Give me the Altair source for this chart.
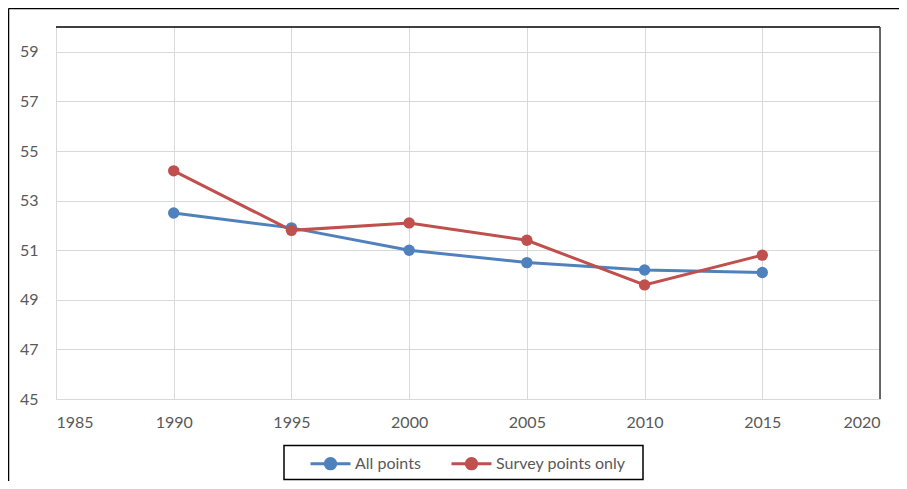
import altair as alt
import pandas as pd

years = [1990, 1995, 2000, 2005, 2010, 2015]
all_points = [52.5, 51.9, 51.0, 50.5, 50.2, 50.1]
survey_points = [54.2, 51.8, 52.1, 51.4, 49.6, 50.8]
series_names = ["All points", "Survey points only"]
colors = ["#4F81BD", "#C0504D"]
x_ticks = [1985, 1990, 1995, 2000, 2005, 2010, 2015, 2020]
y_ticks = [45, 47, 49, 51, 53, 55, 57, 59]

rows = []
for name, vals in zip(series_names, [all_points, survey_points]):
    for yr, v in zip(years, vals):
        rows.append({"year": yr, "value": v, "series": name})
df = pd.DataFrame(rows)

FONT = "Lato"
GRID = "#D9D9D9"
TXT = "#595959"

legend_path = ("M-1,0L1,0"
               "M-0.26,0a0.26,0.26 0 1,0 0.52,0a0.26,0.26 0 1,0 -0.52,0Z")

color = alt.Color(
    "series:N",
    scale=alt.Scale(domain=series_names, range=colors),
    legend=alt.Legend(
        title=None, orient="none", direction="horizontal",
        legendX=253, legendY=415,
        symbolType=legend_path, symbolSize=1600, symbolStrokeWidth=3,
        labelFont=FONT, labelFontSize=16, labelColor=TXT, labelOffset=3,
        columnPadding=24, padding=0,
    ),
)

x = alt.X("year:Q", scale=alt.Scale(domain=[1985, 2020], nice=False),
          axis=alt.Axis(values=x_ticks, format="d", title=None, grid=True,
                        gridColor=GRID, domainColor=GRID, ticks=False,
                        labelPadding=15, labelFont=FONT, labelFontSize=16,
                        labelColor=TXT))
y = alt.Y("value:Q", scale=alt.Scale(domain=[45, 60], nice=False, zero=False),
          axis=alt.Axis(values=y_ticks, title=None, grid=True,
                        gridColor=GRID, domainColor=GRID, ticks=False,
                        labelPadding=18, labelFont=FONT, labelFontSize=16,
                        labelColor=TXT))

base = alt.Chart(df)
points = base.mark_point(filled=True, size=130, opacity=1).encode(x=x, y=y, color=color)
lines = base.mark_line(strokeWidth=3).encode(x=x, y=y, color=color)

deco = pd.DataFrame({"k": [0]})
legend_box = alt.Chart(deco).mark_rect(fill="#FFFFFF", stroke="#000000", strokeWidth=1.5).encode(
    x=alt.value(228), x2=alt.value(587), y=alt.value(418.5), y2=alt.value(452.5))
plot_top = alt.Chart(deco).mark_rule(color="#000000", strokeWidth=1.5).encode(
    x=alt.value(0), x2=alt.value(824), y=alt.value(0))
plot_right = alt.Chart(deco).mark_rule(color="#3A3A3A", strokeWidth=1.5).encode(
    x=alt.value(824), y=alt.value(0), y2=alt.value(372))
left_line = alt.Chart(deco).mark_rule(color="#000000", strokeWidth=1.5).encode(
    x=alt.value(-47.5), y=alt.value(-18.5), y2=alt.value(470))
top_line = alt.Chart(deco).mark_rule(color="#000000", strokeWidth=1.5).encode(
    x=alt.value(-47.5), x2=alt.value(880), y=alt.value(-18.5))

chart = alt.layer(legend_box, lines, points, plot_top, plot_right, left_line, top_line).properties(
    width=824, height=372,
    autosize=alt.AutoSizeParams(type="none"),
    padding={"left": 48, "top": 19, "right": 19, "bottom": 82},
).configure_view(stroke=None)

chart.save("out.html", embed_options={"renderer": "svg", "actions": False})
